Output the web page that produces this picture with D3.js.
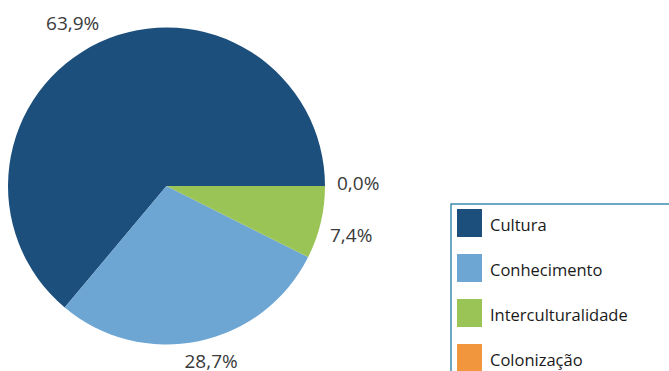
<!DOCTYPE html>
<html><head><meta charset="utf-8">
<script src="https://cdn.jsdelivr.net/npm/d3@7"></script>
<style>body{margin:0;background:#fff;} svg{display:block;}</style>
</head><body>
<svg id="c" width="669" height="371"></svg>
<script>
const categories = ["Cultura", "Conhecimento", "Interculturalidade", "Colonização"];
const values = [63.9, 28.7, 7.4, 0.0];
const labels = ["63,9%", "28,7%", "7,4%", "0,0%"];
const colors = ["#1c4f7c", "#6da5d3", "#9bc456", "#f2963e"];

const svg = d3.select("#c");
const cx = 166.5, cy = 186, r = 158.5;
const font = "'Open Sans', 'DejaVu Sans', sans-serif";

const pie = d3.pie().sort(null).value(d => d)
  .startAngle(Math.PI / 2).endAngle(Math.PI / 2 - 2 * Math.PI);
const arcs = pie(values);
const arc = d3.arc().innerRadius(0).outerRadius(r);

const g = svg.append("g").attr("transform", `translate(${cx},${cy})`);
g.selectAll("path").data(arcs).enter().append("path")
  .attr("d", arc).attr("fill", (d, i) => colors[i]);

// labels positioned outside slices (Excel-like best-fit placement)
const labelArc = d3.arc().innerRadius(r + 22).outerRadius(r + 22);
g.selectAll("text.lbl").data(arcs).enter().append("text")
  .attr("class", "lbl")
  .attr("x", (d, i) => {
    const c = labelArc.centroid(d);
    if (i === 0) return c[0] - 17.5;
    if (i === 1) return c[0] + 8;
    if (i === 3) return r + 12;
    return r + 5;
  })
  .attr("y", (d, i) => {
    if (i === 0) return -r + 2.5;
    if (i === 1) return r + 23;
    if (i === 3) return 4;
    return 56;
  })
  .attr("text-anchor", (d, i) => i >= 2 ? "start" : "middle")
  .attr("font-family", font).attr("font-size", 19).attr("fill", "#3a3a3a")
  .text((d, i) => labels[i]);

// legend
const lx = 451, ly = 204;
svg.append("rect").attr("x", lx).attr("y", ly).attr("width", 240).attr("height", 200)
  .attr("fill", "#fff").attr("stroke", "#3e8cb0").attr("stroke-width", 1.5);
const leg = svg.append("g");
categories.forEach((c, i) => {
  const y = 209 + i * 45;
  leg.append("rect").attr("x", 457).attr("y", y).attr("width", 25).attr("height", 28)
    .attr("fill", colors[i]);
  leg.append("text").attr("x", 490).attr("y", y + 22)
    .attr("font-family", font).attr("font-size", 16.5).attr("fill", "#1a1a1a").text(c);
});
</script>
</body></html>
